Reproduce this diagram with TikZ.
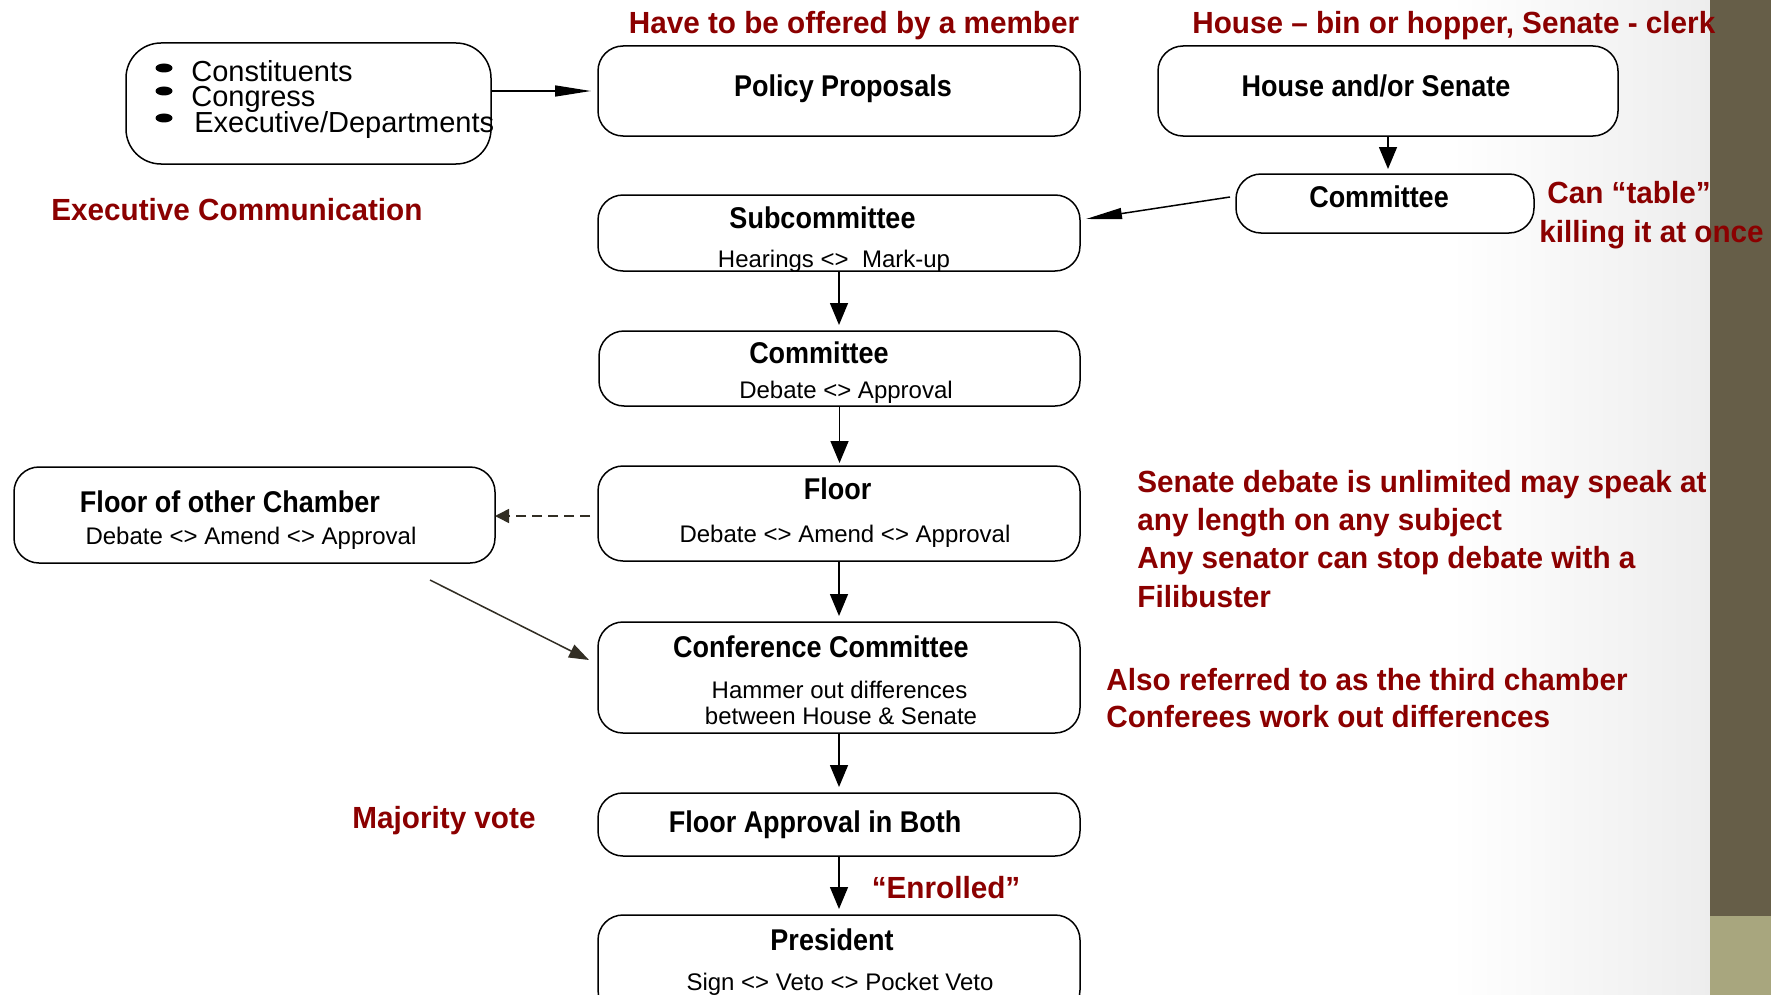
\documentclass[tikz,border=0pt]{standalone}
\usepackage{fontspec}
\setmainfont{Liberation Sans}
\newfontfamily\ttlfont{Liberation Sans}[FakeStretch=0.9]
\newfontfamily\redfont{Liberation Sans}[FakeStretch=0.97]
\usetikzlibrary{arrows.meta}
\definecolor{dred}{RGB}{139,0,0}
\definecolor{barDark}{RGB}{102,94,72}
\definecolor{barLight}{RGB}{168,166,126}
\definecolor{olivegray}{RGB}{50,46,36}
\tikzset{
  boxst/.style={draw, line width=0.75pt, rounded corners=12.5pt, inner sep=0pt, outer sep=0pt, fill=white},
  ttlst/.style={font=\ttlfont\fontsize{15}{18}\selectfont\bfseries, anchor=base, inner sep=0pt},
  subst/.style={font=\fontsize{12}{14}\selectfont, anchor=base, inner sep=0pt},
  notest/.style={font=\redfont\fontsize{15.3}{18}\selectfont\bfseries, text=dred, inner sep=0pt},
  bltst/.style={font=\fontsize{14.5}{17}\selectfont, anchor=base west, inner sep=0pt},
  flowst/.style={-{Triangle[length=11pt,width=9pt]}, line width=0.75pt},
  longst/.style={-{Triangle[length=18pt,width=5.5pt]}, line width=0.75pt},
}
\begin{document}
\begin{tikzpicture}[x=0.5pt,y=-0.5pt]
\useasboundingbox (0,0) rectangle (1771,995);
\clip (0,0) rectangle (1771,995);
% background
\fill[white] (0,0) rectangle (1771,995);
\shade[left color=white, right color=black!7] (1450,0) rectangle (1710,995);
\fill[barDark] (1710,0) rectangle (1771,916);
\fill[barLight] (1710,916) rectangle (1771,995);

% boxes
\node[boxst, rounded corners=17.5pt, minimum width=182.5pt, minimum height=60.5pt] (b1) at (308.5,103.5) {};
\node[boxst, minimum width=241pt, minimum height=45pt] (pp) at (839,91) {};
\node[boxst, minimum width=230pt, minimum height=45pt] (hs) at (1388,91) {};
\node[boxst, minimum width=149pt, minimum height=29.5pt] (cmr) at (1385,203.5) {};
\node[boxst, minimum width=241pt, minimum height=38pt] (sub) at (839,233) {};
\node[boxst, minimum width=240.5pt, minimum height=37.5pt] (com) at (839.5,368.5) {};
\node[boxst, minimum width=241pt, minimum height=47.5pt] (fl) at (839,513.5) {};
\node[boxst, minimum width=240.5pt, minimum height=48pt] (fo) at (254.5,515) {};
\node[boxst, minimum width=241pt, minimum height=55.5pt] (conf) at (839,677.5) {};
\node[boxst, minimum width=241pt, minimum height=31.5pt] (fab) at (839,824.5) {};
\node[boxst, minimum width=241pt, minimum height=50pt] (pres) at (839,965) {};

% bullets in first box
\fill (164,68) ellipse [x radius=8.5, y radius=4.5];
\fill (164,91) ellipse [x radius=8.5, y radius=4.5];
\fill (164,118) ellipse [x radius=8.5, y radius=4.5];
\node[bltst] (t1) at (191,82) {Constituents};
\node[bltst] (t2) at (191,107) {Congress};
\node[bltst] (t3) at (194,133) {Executive/Departments};

% box texts
\node[ttlst] (tpp) at (843,97) {Policy Proposals};
\node[ttlst] (ths) at (1376,97) {House and/or Senate};
\node[ttlst] (tcmr) at (1379,207) {Committee};
\node[ttlst] (tsub) at (822.5,228) {Subcommittee};
\node[subst] (ssub) at (834,267) {Hearings <>\ \ Mark-up};
\node[ttlst] (tcom) at (819,363) {Committee};
\node[subst] (scom) at (846,398) {Debate <> Approval};
\node[ttlst] (tfl) at (837.5,499) {Floor};
\node[subst] (sfl) at (845,542) {Debate <> Amend <> Approval};
\node[ttlst] (tfo) at (230,512) {Floor of other Chamber};
\node[subst] (sfo) at (251,544) {Debate <> Amend <> Approval};
\node[ttlst] (tconf) at (821,657) {Conference Committee};
\node[subst] (sconf1) at (839.5,698) {Hammer out differences};
\node[subst] (sconf2) at (841,724) {between House \& Senate};
\node[ttlst] (tfab) at (815,832) {Floor Approval in Both};
\node[ttlst] (tpres) at (832,950) {President};
\node[subst] (spres) at (840,990) {Sign <> Veto <> Pocket Veto};

% red notes
\node[notest, anchor=base] (n1) at (854,34) {Have to be offered by a member};
\node[notest, anchor=base west] (n2) at (1192,34) {House – bin or hopper, Senate - clerk};
\node[notest, anchor=base west] (n3) at (1547,203) {Can “table”};
\node[notest, anchor=base west] (n4) at (1539,242) {killing it at once};
\node[notest, anchor=base west] (n5) at (51,220) {Executive Communication};
\node[notest, anchor=base west] (n6) at (1137,492) {Senate debate is unlimited may speak at};
\node[notest, anchor=base west] (n7) at (1137,530) {any length on any subject};
\node[notest, anchor=base west] (n8) at (1137,568) {Any senator can stop debate with a};
\node[notest, anchor=base west] (n9) at (1137,607) {Filibuster};
\node[notest, anchor=base west] (n10) at (1106,690) {Also referred to as the third chamber};
\node[notest, anchor=base west] (n11) at (1106,727) {Conferees work out differences};
\node[notest, anchor=base] (n12) at (444,828) {Majority vote};
\node[notest, anchor=base] (n13) at (946,898) {“Enrolled”};

% connectors
\draw[longst, shorten >=3.5pt] (b1.east |- pp.west) -- (pp.west);
\draw[flowst, shorten >=2.5pt] (hs.south) -- (hs.south |- cmr.north);
\coordinate (ts) at (1230,197);
\coordinate (te) at (1086,219);
\draw[longst] (ts) -- (te);
\draw[flowst, shorten >=3pt] (sub.south) -- (sub.south |- com.north);
\draw[flowst, shorten >=1.5pt] (com.south) -- (com.south |- fl.north);
\draw[flowst, shorten >=3pt] (fl.south) -- (conf.north);
\draw[flowst, shorten >=3pt] (conf.south) -- (fab.north);
\draw[flowst, shorten >=3pt] (fab.south) -- (pres.north);
\coordinate (ds) at (590,516);
\draw[olivegray, line width=0.75pt, dash pattern=on 5pt off 3pt, -{Triangle[length=7pt,width=7pt]}] (ds) -- (ds -| fo.east);
\coordinate (gs) at (430,580);
\coordinate (ge) at (589,660);
\draw[olivegray, line width=0.75pt, -{Triangle[length=10pt,width=7pt]}] (gs) -- (ge);
\end{tikzpicture}
\end{document}
